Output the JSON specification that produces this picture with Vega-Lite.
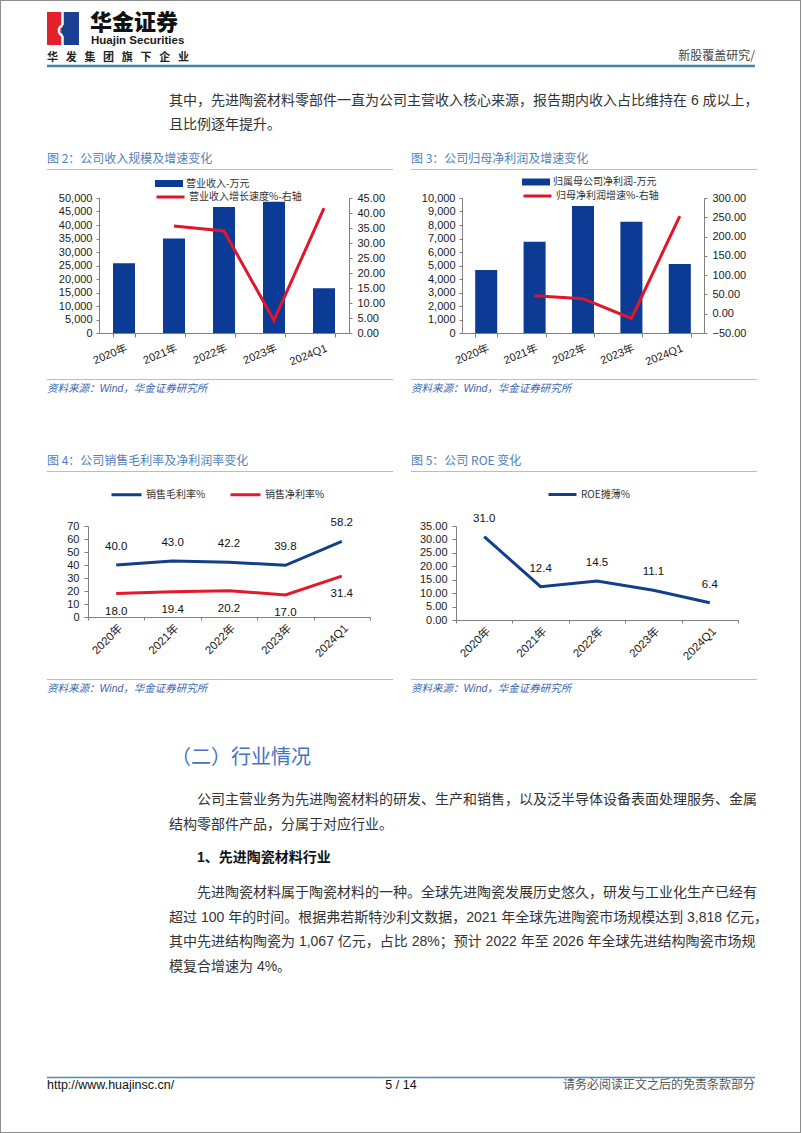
{
  "$schema": "https://vega.github.io/schema/vega-lite/v6.json",
  "padding": 0,
  "background": "white",
  "spacing": 0,
  "config": {
    "view": {"stroke": null},
    "axis": {"labelFont": "Liberation Sans, Noto Sans CJK SC", "labelFontSize": 11, "labelColor": "#1a1a1a", "domainColor": "#808080", "tickColor": "#808080", "grid": false, "labelOverlap": false},
    "legend": {"labelFont": "Noto Sans CJK SC", "labelFontSize": 10, "labelColor": "#333333", "labelOffset": 3, "labelLimit": 300, "padding": 0},
    "text": {"font": "Noto Sans CJK SC", "baseline": "middle", "align": "left"}
  },
  "resolve": {"scale": {"x": "independent", "y": "independent", "fill": "independent", "stroke": "independent"}, "legend": {"fill": "independent", "stroke": "independent"}},
  "vconcat": [
    {
      "width": 802, "height": 138,
      "data": {"values": [{}]},
      "layer": [
        {"mark": {"type": "rect", "opacity": 0}, "encoding": {"x": {"value": 0}, "x2": {"value": 802}, "y": {"value": 0}, "y2": {"value": 138}}},
        {"mark": {"type": "rect", "color": "#8c8c8c"}, "encoding": {"x": {"value": 0}, "x2": {"value": 1}, "y": {"value": 0}, "y2": {"value": 138}}},
        {"mark": {"type": "rect", "color": "#8c8c8c"}, "encoding": {"x": {"value": 800}, "x2": {"value": 801}, "y": {"value": 0}, "y2": {"value": 138}}},
        {"mark": {"type": "rect", "color": "#8c8c8c"}, "encoding": {"x": {"value": 0}, "x2": {"value": 801}, "y": {"value": 0}, "y2": {"value": 1}}},
        {"mark": {"type": "rect", "color": "#e4202d"}, "encoding": {"x": {"value": 47}, "x2": {"value": 62}, "y": {"value": 12}, "y2": {"value": 45}}},
        {"mark": {"type": "rect", "color": "#1d3f93"}, "encoding": {"x": {"value": 62}, "x2": {"value": 79}, "y": {"value": 12}, "y2": {"value": 45}}},
        {"mark": {"type": "rule", "color": "white", "strokeWidth": 2.5}, "encoding": {"x": {"value": 62.5}, "x2": {"value": 62.5}, "y": {"value": 12}, "y2": {"value": 25}}},
        {"mark": {"type": "rule", "color": "white", "strokeWidth": 2.5}, "encoding": {"x": {"value": 62.5}, "x2": {"value": 59}, "y": {"value": 25}, "y2": {"value": 28}}},
        {"mark": {"type": "rule", "color": "white", "strokeWidth": 2.5}, "encoding": {"x": {"value": 59}, "x2": {"value": 59}, "y": {"value": 28}, "y2": {"value": 33}}},
        {"mark": {"type": "rule", "color": "white", "strokeWidth": 2.5}, "encoding": {"x": {"value": 59}, "x2": {"value": 62.5}, "y": {"value": 33}, "y2": {"value": 36}}},
        {"mark": {"type": "rule", "color": "white", "strokeWidth": 2.5}, "encoding": {"x": {"value": 62.5}, "x2": {"value": 62.5}, "y": {"value": 36}, "y2": {"value": 45}}},
        {"data": {"values": [{"t": "华金证券"}]}, "mark": {"type": "text", "fontSize": 22, "fontWeight": 900, "color": "#111111"}, "encoding": {"text": {"field": "t"}, "x": {"value": 90}, "y": {"value": 22.5}}},
        {"data": {"values": [{"t": "Huajin Securities"}]}, "mark": {"type": "text", "font": "Liberation Sans", "fontSize": 11.5, "fontWeight": "bold", "color": "#1a1a1a"}, "encoding": {"text": {"field": "t"}, "x": {"value": 91}, "y": {"value": 40.5}}},
        {"data": {"values": [{"t": "华\u2002\u2009发\u2002\u2009集\u2002\u2009团\u2002\u2009旗\u2002\u2009下\u2002\u2009企\u2002\u2009业"}]}, "mark": {"type": "text", "fontSize": 11, "fontWeight": "bold", "color": "#222222"}, "encoding": {"text": {"field": "t"}, "x": {"value": 47}, "y": {"value": 58}}},
        {"data": {"values": [{"t": "新股覆盖研究/"}]}, "mark": {"type": "text", "fontSize": 12, "color": "#444444", "align": "right"}, "encoding": {"text": {"field": "t"}, "x": {"value": 755}, "y": {"value": 56}}},
        {"mark": {"type": "rule", "color": "#3c87a6", "strokeWidth": 2.5}, "encoding": {"x": {"value": 47}, "x2": {"value": 755}, "y": {"value": 66}}},
        {"data": {"values": [{"t": "其中，先进陶瓷材料零部件一直为公司主营收入核心来源，报告期内收入占比维持在 6 成以上，"}]}, "mark": {"type": "text", "font": "Liberation Sans, Noto Sans CJK SC", "fontSize": 14, "color": "#333333"}, "encoding": {"text": {"field": "t"}, "x": {"value": 169}, "y": {"value": 101}}},
        {"data": {"values": [{"t": "且比例逐年提升。"}]}, "mark": {"type": "text", "font": "Liberation Sans, Noto Sans CJK SC", "fontSize": 14, "color": "#333333"}, "encoding": {"text": {"field": "t"}, "x": {"value": 169}, "y": {"value": 125}}}
      ]
    },
    {
      "hconcat": [
        {
          "width": 99, "height": 135,
          "data": {"values": [{}]},
          "layer": [
            {"mark": {"type": "rect", "opacity": 0}, "encoding": {"x": {"value": 0}, "x2": {"value": 99}, "y": {"value": -60}, "y2": {"value": 210}}},
            {"mark": {"type": "rect", "color": "#8c8c8c"}, "encoding": {"x": {"value": 0}, "x2": {"value": 1}, "y": {"value": -60}, "y2": {"value": 210}}},
            {"data": {"values": [{"t": "图 2：公司收入规模及增速变化"}]}, "mark": {"type": "text", "fontSize": 12, "color": "#4f81bd"}, "encoding": {"text": {"field": "t"}, "x": {"value": 47}, "y": {"value": -39}}},
            {"mark": {"type": "rule", "color": "#a7c0de", "strokeWidth": 1}, "encoding": {"x": {"value": 47}, "x2": {"value": 393}, "y": {"value": -28.5}}},
            {"mark": {"type": "rule", "color": "#a7c0de", "strokeWidth": 1}, "encoding": {"x": {"value": 47}, "x2": {"value": 393}, "y": {"value": 181.5}}},
            {"data": {"values": [{"t": "资料来源：Wind，华金证券研究所"}]}, "mark": {"type": "text", "font": "Liberation Sans, Noto Sans CJK SC", "fontStyle": "italic", "fontSize": 10.5, "color": "#3a66ad"}, "encoding": {"text": {"field": "t"}, "x": {"value": 47}, "y": {"value": 191}}}
          ]
        },
        {
          "width": 250, "height": 135,
          "data": {"values": [
            {"period": "2020年", "revenue": 25800, "growth": null},
            {"period": "2021年", "revenue": 35000, "growth": 35.7},
            {"period": "2022年", "revenue": 46700, "growth": 34.0},
            {"period": "2023年", "revenue": 48600, "growth": 4.2},
            {"period": "2024Q1", "revenue": 16600, "growth": 41.6}
          ]},
          "encoding": {"x": {"field": "period", "type": "nominal", "sort": null, "scale": {"type": "band", "paddingInner": 0.56, "paddingOuter": 0.28}, "axis": {"title": null, "labelAngle": -22, "labelAlign": "right", "labelBaseline": "top", "tickBand": "extent", "tickSize": 4, "labelPadding": 5}}},
          "layer": [
            {"mark": {"type": "bar"}, "encoding": {
              "y": {"field": "revenue", "type": "quantitative", "scale": {"domain": [0, 50000]}, "axis": {"title": null, "values": [0, 5000, 10000, 15000, 20000, 25000, 30000, 35000, 40000, 45000, 50000], "format": ",d", "tickSize": 3, "labelPadding": 4}},
              "fill": {"datum": "营业收入-万元", "type": "nominal", "scale": {"range": ["#0b3b94"]}, "legend": {"orient": "none", "legendX": 56, "legendY": -28.5, "title": null, "symbolType": "M-1,-0.25H1V0.25H-1Z", "symbolSize": 784, "symbolStrokeWidth": 0}}}},
            {"mark": {"type": "line", "strokeWidth": 3}, "encoding": {
              "y": {"field": "growth", "type": "quantitative", "scale": {"domain": [0, 45]}, "axis": {"orient": "right", "title": null, "values": [0, 5, 10, 15, 20, 25, 30, 35, 40, 45], "format": ".2f", "tickSize": 3, "labelPadding": 5}},
              "stroke": {"datum": "营业收入增长速度%-右轴", "type": "nominal", "scale": {"range": ["#e0162b"]}, "legend": {"orient": "none", "legendX": 56, "legendY": -16.5, "title": null, "symbolType": "stroke", "symbolSize": 784, "symbolStrokeWidth": 3}}}}
          ],
          "resolve": {"scale": {"y": "independent"}}
        },
        {
          "width": 113, "height": 135,
          "data": {"values": [{}]},
          "layer": [
            {"data": {"values": [{"t": "图 3：公司归母净利润及增速变化"}]}, "mark": {"type": "text", "fontSize": 12, "color": "#4f81bd"}, "encoding": {"text": {"field": "t"}, "x": {"value": 62}, "y": {"value": -39}}},
            {"mark": {"type": "rule", "color": "#a7c0de", "strokeWidth": 1}, "encoding": {"x": {"value": 62}, "x2": {"value": 408}, "y": {"value": -28.5}}},
            {"mark": {"type": "rule", "color": "#a7c0de", "strokeWidth": 1}, "encoding": {"x": {"value": 62}, "x2": {"value": 408}, "y": {"value": 181.5}}},
            {"data": {"values": [{"t": "资料来源：Wind，华金证券研究所"}]}, "mark": {"type": "text", "font": "Liberation Sans, Noto Sans CJK SC", "fontStyle": "italic", "fontSize": 10.5, "color": "#3a66ad"}, "encoding": {"text": {"field": "t"}, "x": {"value": 62}, "y": {"value": 191}}}
          ]
        },
        {
          "width": 242, "height": 135,
          "data": {"values": [
            {"period": "2020年", "profit": 4670, "growth": null},
            {"period": "2021年", "profit": 6760, "growth": 46.5},
            {"period": "2022年", "profit": 9400, "growth": 39.0},
            {"period": "2023年", "profit": 8245, "growth": -12.3},
            {"period": "2024Q1", "profit": 5110, "growth": 253.0}
          ]},
          "encoding": {"x": {"field": "period", "type": "nominal", "sort": null, "scale": {"type": "band", "paddingInner": 0.545, "paddingOuter": 0.2725}, "axis": {"title": null, "labelAngle": -22, "labelAlign": "right", "labelBaseline": "top", "tickBand": "extent", "tickSize": 4, "labelPadding": 5}}},
          "layer": [
            {"mark": {"type": "bar"}, "encoding": {
              "y": {"field": "profit", "type": "quantitative", "scale": {"domain": [0, 10000]}, "axis": {"title": null, "values": [0, 1000, 2000, 3000, 4000, 5000, 6000, 7000, 8000, 9000, 10000], "format": ",d", "tickSize": 3, "labelPadding": 4}},
              "fill": {"datum": "归属母公司净利润-万元", "type": "nominal", "scale": {"range": ["#0b3b94"]}, "legend": {"orient": "none", "legendX": 60, "legendY": -30, "title": null, "symbolType": "M-1,-0.25H1V0.25H-1Z", "symbolSize": 784, "symbolStrokeWidth": 0}}}},
            {"mark": {"type": "line", "strokeWidth": 3}, "encoding": {
              "y": {"field": "growth", "type": "quantitative", "scale": {"domain": [-50, 300]}, "axis": {"orient": "right", "title": null, "values": [-50, 0, 50, 100, 150, 200, 250, 300], "format": ".2f", "tickSize": 3, "labelPadding": 5}},
              "stroke": {"datum": "归母净利润增速%-右轴", "type": "nominal", "scale": {"range": ["#e0162b"]}, "legend": {"orient": "none", "legendX": 60, "legendY": -17.5, "title": null, "symbolType": "stroke", "symbolSize": 784, "symbolStrokeWidth": 3}}}}
          ],
          "resolve": {"scale": {"y": "independent"}}
        },
        {
          "width": 98, "height": 135,
          "data": {"values": [{}]},
          "layer": [
            {"mark": {"type": "rect", "color": "#8c8c8c"}, "encoding": {"x": {"value": 96}, "x2": {"value": 97}, "y": {"value": -60}, "y2": {"value": 210}}}
          ]
        }
      ],
      "spacing": 0,
      "bounds": "flush",
      "resolve": {"scale": {"x": "independent", "y": "independent", "fill": "independent", "stroke": "independent"}, "legend": {"fill": "independent", "stroke": "independent"}}
    },
    {
      "hconcat": [
        {
          "width": 88, "height": 94,
          "data": {"values": [{}]},
          "layer": [
            {"mark": {"type": "rect", "opacity": 0}, "encoding": {"x": {"value": 0}, "x2": {"value": 88}, "y": {"value": -118}, "y2": {"value": 180}}},
            {"mark": {"type": "rect", "color": "#8c8c8c"}, "encoding": {"x": {"value": 0}, "x2": {"value": 1}, "y": {"value": -118}, "y2": {"value": 180}}},
            {"data": {"values": [{"t": "图 4：公司销售毛利率及净利润率变化"}]}, "mark": {"type": "text", "fontSize": 12, "color": "#4f81bd"}, "encoding": {"text": {"field": "t"}, "x": {"value": 47}, "y": {"value": -65}}},
            {"mark": {"type": "rule", "color": "#a7c0de", "strokeWidth": 1}, "encoding": {"x": {"value": 47}, "x2": {"value": 393}, "y": {"value": -54.5}}},
            {"mark": {"type": "rule", "color": "#a7c0de", "strokeWidth": 1}, "encoding": {"x": {"value": 47}, "x2": {"value": 393}, "y": {"value": 153.5}}},
            {"data": {"values": [{"t": "资料来源：Wind，华金证券研究所"}]}, "mark": {"type": "text", "font": "Liberation Sans, Noto Sans CJK SC", "fontStyle": "italic", "fontSize": 10.5, "color": "#3a66ad"}, "encoding": {"text": {"field": "t"}, "x": {"value": 47}, "y": {"value": 163}}}
          ]
        },
        {
          "width": 282, "height": 91,
          "data": {"values": [
            {"period": "2020年", "series": "销售毛利率%", "value": 40.0},
            {"period": "2021年", "series": "销售毛利率%", "value": 43.0},
            {"period": "2022年", "series": "销售毛利率%", "value": 42.2},
            {"period": "2023年", "series": "销售毛利率%", "value": 39.8},
            {"period": "2024Q1", "series": "销售毛利率%", "value": 58.2},
            {"period": "2020年", "series": "销售净利率%", "value": 18.0},
            {"period": "2021年", "series": "销售净利率%", "value": 19.4},
            {"period": "2022年", "series": "销售净利率%", "value": 20.2},
            {"period": "2023年", "series": "销售净利率%", "value": 17.0},
            {"period": "2024Q1", "series": "销售净利率%", "value": 31.4}
          ]},
          "encoding": {
            "x": {"field": "period", "type": "nominal", "sort": null, "scale": {"type": "band", "paddingInner": 0, "paddingOuter": 0}, "axis": {"title": null, "labelAngle": -45, "labelAlign": "right", "labelBaseline": "top", "tickBand": "extent", "tickSize": 3, "labelPadding": 2, "labelFontSize": 11.5}},
            "y": {"field": "value", "type": "quantitative", "scale": {"domain": [0, 70]}, "axis": {"title": null, "values": [0, 10, 20, 30, 40, 50, 60, 70], "format": "d", "tickSize": 4, "labelPadding": 5}}
          },
          "layer": [
            {"mark": {"type": "line", "strokeWidth": 3}, "encoding": {"stroke": {"field": "series", "type": "nominal", "sort": null, "scale": {"domain": ["销售毛利率%", "销售净利率%"], "range": ["#123f8a", "#e3182b"]}, "legend": {"orient": "none", "legendX": 22, "legendY": -48, "direction": "horizontal", "title": null, "symbolType": "stroke", "symbolSize": 900, "symbolStrokeWidth": 3, "columnPadding": 18}}}},
            {"transform": [{"filter": "datum.series === '销售毛利率%'"}], "mark": {"type": "text", "dy": -18, "align": "center", "font": "Liberation Sans", "fontSize": 11.5, "color": "#111111"}, "encoding": {"text": {"field": "value", "type": "quantitative", "format": ".1f"}}},
            {"transform": [{"filter": "datum.series === '销售净利率%'"}], "mark": {"type": "text", "dy": 18, "align": "center", "font": "Liberation Sans", "fontSize": 11.5, "color": "#111111"}, "encoding": {"text": {"field": "value", "type": "quantitative", "format": ".1f"}}}
          ]
        },
        {
          "width": 86, "height": 94,
          "data": {"values": [{}]},
          "layer": [
            {"data": {"values": [{"t": "图 5：公司 ROE 变化"}]}, "mark": {"type": "text", "fontSize": 12, "color": "#4f81bd"}, "encoding": {"text": {"field": "t"}, "x": {"value": 41}, "y": {"value": -65}}},
            {"mark": {"type": "rule", "color": "#a7c0de", "strokeWidth": 1}, "encoding": {"x": {"value": 41}, "x2": {"value": 387}, "y": {"value": -54.5}}},
            {"mark": {"type": "rule", "color": "#a7c0de", "strokeWidth": 1}, "encoding": {"x": {"value": 41}, "x2": {"value": 387}, "y": {"value": 153.5}}},
            {"data": {"values": [{"t": "资料来源：Wind，华金证券研究所"}]}, "mark": {"type": "text", "font": "Liberation Sans, Noto Sans CJK SC", "fontStyle": "italic", "fontSize": 10.5, "color": "#3a66ad"}, "encoding": {"text": {"field": "t"}, "x": {"value": 41}, "y": {"value": 163}}}
          ]
        },
        {
          "width": 282, "height": 94,
          "data": {"values": [
            {"period": "2020年", "roe": 31.0},
            {"period": "2021年", "roe": 12.4},
            {"period": "2022年", "roe": 14.5},
            {"period": "2023年", "roe": 11.1},
            {"period": "2024Q1", "roe": 6.4}
          ]},
          "encoding": {
            "x": {"field": "period", "type": "nominal", "sort": null, "scale": {"type": "band", "paddingInner": 0, "paddingOuter": 0}, "axis": {"title": null, "labelAngle": -45, "labelAlign": "right", "labelBaseline": "top", "tickBand": "extent", "tickSize": 3, "labelPadding": 2, "labelFontSize": 11.5}},
            "y": {"field": "roe", "type": "quantitative", "scale": {"domain": [0, 35]}, "axis": {"title": null, "values": [0, 5, 10, 15, 20, 25, 30, 35], "format": ".2f", "tickSize": 4, "labelPadding": 5}}
          },
          "layer": [
            {"mark": {"type": "line", "strokeWidth": 3}, "encoding": {"stroke": {"datum": "ROE摊薄%", "type": "nominal", "scale": {"range": ["#123f8a"]}, "legend": {"orient": "none", "legendX": 91, "legendY": -47, "title": null, "symbolType": "stroke", "symbolSize": 784, "symbolStrokeWidth": 3}}}},
            {"mark": {"type": "text", "dy": -18, "align": "center", "font": "Liberation Sans", "fontSize": 11.5, "color": "#111111"}, "encoding": {"text": {"field": "roe", "type": "quantitative", "format": ".1f"}}}
          ]
        },
        {
          "width": 64, "height": 94,
          "data": {"values": [{}]},
          "layer": [
            {"mark": {"type": "rect", "color": "#8c8c8c"}, "encoding": {"x": {"value": 62}, "x2": {"value": 63}, "y": {"value": -118}, "y2": {"value": 180}}}
          ]
        }
      ],
      "spacing": 0,
      "bounds": "flush",
      "resolve": {"scale": {"x": "independent", "y": "independent", "fill": "independent", "stroke": "independent"}, "legend": {"fill": "independent", "stroke": "independent"}}
    },
    {
      "width": 802, "height": 427,
      "data": {"values": [{}]},
      "layer": [
        {"mark": {"type": "rect", "opacity": 0}, "encoding": {"x": {"value": 0}, "x2": {"value": 802}, "y": {"value": 0}, "y2": {"value": 427}}},
        {"mark": {"type": "rect", "color": "#8c8c8c"}, "encoding": {"x": {"value": 0}, "x2": {"value": 1}, "y": {"value": 0}, "y2": {"value": 427}}},
        {"mark": {"type": "rect", "color": "#8c8c8c"}, "encoding": {"x": {"value": 800}, "x2": {"value": 801}, "y": {"value": 0}, "y2": {"value": 427}}},
        {"mark": {"type": "rect", "color": "#8c8c8c"}, "encoding": {"x": {"value": 0}, "x2": {"value": 801}, "y": {"value": 426}, "y2": {"value": 427}}},
        {"data": {"values": [{"t": "（二）行业情况"}]}, "mark": {"type": "text", "fontSize": 20, "color": "#4472c4"}, "encoding": {"text": {"field": "t"}, "x": {"value": 171}, "y": {"value": 52}}},
        {"data": {"values": [{"t": "公司主营业务为先进陶瓷材料的研发、生产和销售，以及泛半导体设备表面处理服务、金属"}]}, "mark": {"type": "text", "font": "Liberation Sans, Noto Sans CJK SC", "fontSize": 14, "color": "#333333"}, "encoding": {"text": {"field": "t"}, "x": {"value": 197}, "y": {"value": 94}}},
        {"data": {"values": [{"t": "结构零部件产品，分属于对应行业。"}]}, "mark": {"type": "text", "font": "Liberation Sans, Noto Sans CJK SC", "fontSize": 14, "color": "#333333"}, "encoding": {"text": {"field": "t"}, "x": {"value": 169}, "y": {"value": 119}}},
        {"data": {"values": [{"t": "1、先进陶瓷材料行业"}]}, "mark": {"type": "text", "font": "Liberation Sans, Noto Sans CJK SC", "fontSize": 14, "fontWeight": "bold", "color": "#111111"}, "encoding": {"text": {"field": "t"}, "x": {"value": 197}, "y": {"value": 152}}},
        {"data": {"values": [{"t": "先进陶瓷材料属于陶瓷材料的一种。全球先进陶瓷发展历史悠久，研发与工业化生产已经有"}]}, "mark": {"type": "text", "font": "Liberation Sans, Noto Sans CJK SC", "fontSize": 14, "color": "#333333"}, "encoding": {"text": {"field": "t"}, "x": {"value": 197}, "y": {"value": 187}}},
        {"data": {"values": [{"t": "超过 100 年的时间。根据弗若斯特沙利文数据，2021 年全球先进陶瓷市场规模达到 3,818 亿元，"}]}, "mark": {"type": "text", "font": "Liberation Sans, Noto Sans CJK SC", "fontSize": 14, "color": "#333333"}, "encoding": {"text": {"field": "t"}, "x": {"value": 169}, "y": {"value": 212}}},
        {"data": {"values": [{"t": "其中先进结构陶瓷为 1,067 亿元，占比 28%；预计 2022 年至 2026 年全球先进结构陶瓷市场规"}]}, "mark": {"type": "text", "font": "Liberation Sans, Noto Sans CJK SC", "fontSize": 14, "color": "#333333"}, "encoding": {"text": {"field": "t"}, "x": {"value": 169}, "y": {"value": 236}}},
        {"data": {"values": [{"t": "模复合增速为 4%。"}]}, "mark": {"type": "text", "font": "Liberation Sans, Noto Sans CJK SC", "fontSize": 14, "color": "#333333"}, "encoding": {"text": {"field": "t"}, "x": {"value": 169}, "y": {"value": 261}}},
        {"mark": {"type": "rule", "color": "#4a8dc0", "strokeWidth": 1.5}, "encoding": {"x": {"value": 47}, "x2": {"value": 755}, "y": {"value": 371.5}}},
        {"data": {"values": [{"t": "http://www.huajinsc.cn/"}]}, "mark": {"type": "text", "font": "Liberation Sans Narrow, Liberation Sans", "fontSize": 12.5, "color": "#111111"}, "encoding": {"text": {"field": "t"}, "x": {"value": 47}, "y": {"value": 379}}},
        {"data": {"values": [{"t": "5 / 14"}]}, "mark": {"type": "text", "font": "Liberation Sans Narrow, Liberation Sans", "fontSize": 12.5, "color": "#111111", "align": "center"}, "encoding": {"text": {"field": "t"}, "x": {"value": 401}, "y": {"value": 379}}},
        {"data": {"values": [{"t": "请务必阅读正文之后的免责条款部分"}]}, "mark": {"type": "text", "fontSize": 12, "color": "#555555", "align": "right"}, "encoding": {"text": {"field": "t"}, "x": {"value": 755}, "y": {"value": 379}}}
      ]
    }
  ]
}
